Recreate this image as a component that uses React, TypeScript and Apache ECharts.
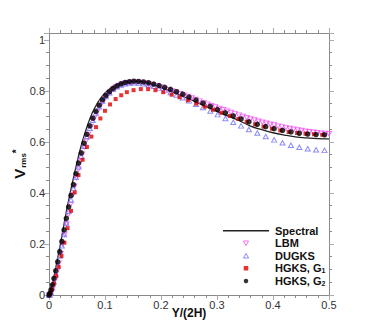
import React, { useEffect, useRef } from "react";
import * as echarts from "echarts";

// [Y/(2H), Vrms*]
const spectral: number[][] = [
  [0, 0], [0.005, 0.035], [0.01, 0.085], [0.015, 0.14], [0.02, 0.195], [0.025, 0.255],
  [0.03, 0.315], [0.035, 0.37], [0.04, 0.423], [0.045, 0.472], [0.05, 0.52], [0.055, 0.565],
  [0.06, 0.605], [0.065, 0.64], [0.07, 0.673], [0.075, 0.702], [0.08, 0.726], [0.085, 0.746],
  [0.09, 0.764], [0.1, 0.792], [0.11, 0.811], [0.12, 0.824], [0.13, 0.832], [0.14, 0.837],
  [0.15, 0.839], [0.16, 0.838], [0.17, 0.835], [0.18, 0.829], [0.19, 0.822], [0.2, 0.813],
  [0.22, 0.796], [0.24, 0.778], [0.26, 0.759], [0.28, 0.739], [0.3, 0.72], [0.32, 0.701],
  [0.34, 0.683], [0.36, 0.662], [0.38, 0.648], [0.4, 0.636], [0.42, 0.627], [0.44, 0.62],
  [0.46, 0.616], [0.48, 0.613], [0.5, 0.612],
];

const lbm: number[][] = [
  [0, 0], [0.0035, 0.004], [0.007, 0.028], [0.0105, 0.058], [0.014, 0.09], [0.0175, 0.125],
  [0.021, 0.162], [0.0245, 0.2], [0.028, 0.238], [0.0315, 0.278], [0.035, 0.317], [0.0385, 0.355],
  [0.042, 0.392], [0.0455, 0.426], [0.049, 0.46], [0.0525, 0.493], [0.056, 0.523], [0.0595, 0.552],
  [0.063, 0.58], [0.0665, 0.605], [0.07, 0.629], [0.075, 0.661], [0.08, 0.69], [0.085, 0.714],
  [0.09, 0.736], [0.095, 0.755], [0.1, 0.771], [0.105, 0.785], [0.11, 0.797], [0.115, 0.807],
  [0.12, 0.815], [0.125, 0.821], [0.13, 0.826], [0.135, 0.829], [0.14, 0.831], [0.145, 0.833],
  [0.15, 0.834], [0.157, 0.834], [0.164, 0.833], [0.171, 0.831], [0.178, 0.828], [0.185, 0.824],
  [0.192, 0.82], [0.199, 0.815], [0.206, 0.81], [0.213, 0.805], [0.22, 0.8], [0.227, 0.795],
  [0.234, 0.789], [0.241, 0.783], [0.248, 0.778], [0.255, 0.772], [0.262, 0.766], [0.269, 0.76],
  [0.276, 0.754], [0.283, 0.748], [0.29, 0.742], [0.297, 0.737], [0.304, 0.731], [0.311, 0.726],
  [0.318, 0.72], [0.325, 0.715], [0.332, 0.71], [0.339, 0.705], [0.346, 0.7], [0.353, 0.695],
  [0.36, 0.69], [0.367, 0.686], [0.374, 0.681], [0.381, 0.677], [0.388, 0.673], [0.395, 0.669],
  [0.402, 0.666], [0.409, 0.662], [0.416, 0.659], [0.423, 0.656], [0.43, 0.653], [0.437, 0.65],
  [0.444, 0.647], [0.451, 0.645], [0.458, 0.642], [0.465, 0.64], [0.472, 0.638], [0.479, 0.636],
  [0.486, 0.634], [0.493, 0.633], [0.5, 0.632],
];

const dugks: number[][] = [
  [0, 0], [0.0015, 0.001], [0.0035, 0.01], [0.006, 0.028], [0.0088, 0.052], [0.012, 0.08],
  [0.0155, 0.115], [0.0192, 0.153], [0.023, 0.193], [0.027, 0.237], [0.031, 0.282], [0.035, 0.328],
  [0.0393, 0.373], [0.0437, 0.418], [0.0482, 0.461], [0.0528, 0.503], [0.0576, 0.544], [0.0625, 0.583],
  [0.0676, 0.62], [0.0728, 0.654], [0.0782, 0.685], [0.0838, 0.713], [0.0896, 0.738], [0.0955, 0.76],
  [0.1016, 0.778], [0.108, 0.793], [0.1146, 0.806], [0.1215, 0.816], [0.1286, 0.823], [0.136, 0.828],
  [0.1437, 0.831], [0.1517, 0.832], [0.16, 0.831], [0.1687, 0.828], [0.1777, 0.824], [0.187, 0.818],
  [0.1966, 0.811], [0.2066, 0.803], [0.217, 0.794], [0.2277, 0.784], [0.2388, 0.773], [0.25, 0.761],
  [0.2625, 0.748], [0.275, 0.735], [0.288, 0.721], [0.301, 0.707], [0.315, 0.692], [0.329, 0.677],
  [0.343, 0.663], [0.357, 0.649], [0.372, 0.635], [0.387, 0.621], [0.402, 0.608], [0.417, 0.597],
  [0.432, 0.587], [0.447, 0.579], [0.462, 0.573], [0.477, 0.569], [0.492, 0.567],
];

const hgksG1: number[][] = [
  [0, 0], [0.0024, 0.008], [0.0053, 0.022], [0.0088, 0.045], [0.0128, 0.075], [0.0173, 0.11],
  [0.0222, 0.153], [0.0275, 0.205], [0.0332, 0.262], [0.0393, 0.33], [0.0458, 0.402], [0.0527, 0.47],
  [0.06, 0.53], [0.0677, 0.58], [0.0757, 0.621], [0.084, 0.658], [0.0918, 0.692], [0.1, 0.722],
  [0.109, 0.747], [0.119, 0.768], [0.129, 0.783], [0.139, 0.795], [0.151, 0.803], [0.164, 0.807],
  [0.177, 0.807], [0.19, 0.803], [0.204, 0.795], [0.219, 0.785], [0.233, 0.775], [0.248, 0.763],
  [0.263, 0.75], [0.278, 0.738], [0.293, 0.726], [0.308, 0.714], [0.323, 0.702], [0.338, 0.69],
  [0.353, 0.679], [0.368, 0.669], [0.383, 0.66], [0.398, 0.652], [0.413, 0.645], [0.428, 0.639],
  [0.443, 0.635], [0.458, 0.632], [0.473, 0.63], [0.488, 0.628],
];

const hgksG2: number[][] = [
  [0, 0], [0.0015, 0.006], [0.0035, 0.02], [0.006, 0.04], [0.0088, 0.065], [0.012, 0.095],
  [0.0155, 0.13], [0.0192, 0.17], [0.023, 0.21], [0.027, 0.255], [0.031, 0.3], [0.035, 0.345],
  [0.0393, 0.39], [0.0437, 0.433], [0.0482, 0.476], [0.0528, 0.517], [0.0576, 0.557], [0.0625, 0.595],
  [0.0676, 0.63], [0.0728, 0.663], [0.0782, 0.693], [0.0838, 0.72], [0.0896, 0.744], [0.0955, 0.765],
  [0.1016, 0.782], [0.108, 0.797], [0.1146, 0.81], [0.1215, 0.82], [0.1286, 0.828], [0.136, 0.833],
  [0.1437, 0.836], [0.1517, 0.838], [0.16, 0.837], [0.1687, 0.835], [0.1777, 0.832], [0.187, 0.827],
  [0.1966, 0.821], [0.2066, 0.814], [0.217, 0.806], [0.2277, 0.797], [0.2388, 0.787], [0.25, 0.776],
  [0.2625, 0.764], [0.275, 0.752], [0.288, 0.739], [0.301, 0.727], [0.315, 0.714], [0.329, 0.702],
  [0.343, 0.69], [0.357, 0.679], [0.372, 0.669], [0.387, 0.66], [0.402, 0.652], [0.417, 0.645],
  [0.432, 0.639], [0.447, 0.634], [0.462, 0.631], [0.477, 0.629], [0.492, 0.628],
];

const seriesNames = ["Spectral", "LBM", "DUGKS", "HGKS, G1", "HGKS, G2"];

const FONT = "Liberation Sans, Arial, Helvetica, sans-serif";
const AXIS_GRAY = "#8a8a8a";
const LBM_COLOR = "#f050f0";
const DUGKS_COLOR = "#6f6ff5";

export default function App() {
  const ref = useRef<HTMLDivElement>(null);
  useEffect(() => {
    document.body.style.margin = "0";
    if (!ref.current) return;
    const chart = echarts.init(ref.current, undefined, { renderer: "svg" });
    const baseAxis = {
      axisLine: { show: true, onZero: false, lineStyle: { color: AXIS_GRAY, width: 1 } },
      axisTick: { show: true, inside: false, length: 5, lineStyle: { color: "#aaaaaa", width: 1 } },
      minorTick: { show: true, length: 3, lineStyle: { color: AXIS_GRAY, width: 1 } },
      splitLine: { show: false },
    };
    const labelStyle = { color: "#333", fontSize: 11, fontFamily: FONT };
    const fmt = (v: number) => {
      if (Math.abs(v - Math.round(v * 10) / 10) > 1e-6) return "";
      if (v === 0) return "0";
      if (Math.abs(v - 1) < 1e-6) return "1";
      return v.toFixed(1);
    };
    const hollow = (c: string) => ({ color: "rgba(0,0,0,0)", borderColor: c, borderWidth: 1 });
    const legendItems = [
      { name: "Spectral", icon: "path://M0,0 H46 V1.3 H0 Z", itemStyle: { color: "#222" } },
      { name: "LBM", icon: "path://M0,0 L10,0 L5,8.7 Z", itemStyle: hollow(LBM_COLOR) },
      { name: "DUGKS", icon: "path://M5,0 L10,8.7 L0,8.7 Z", itemStyle: hollow(DUGKS_COLOR) },
      { name: "HGKS, G1", icon: "path://M0,0 H10 V10 H0 Z", itemStyle: { color: "#e00000" } },
      { name: "HGKS, G2", icon: "circle", itemStyle: { color: "#000" } },
    ];
    chart.setOption({
      animation: false,
      backgroundColor: "#ffffff",
      grid: { left: 49, right: 45, top: 33, bottom: 37, containLabel: false, outerBoundsMode: "none" },
      legend: {
        orient: "vertical",
        left: 218,
        top: 220,
        itemWidth: 46,
        itemHeight: 4.5,
        itemGap: 1,
        data: legendItems.filter((d) => seriesNames.includes(d.name)),
        textStyle: {
          fontFamily: FONT,
          fontSize: 11,
          fontWeight: "bold",
          color: "#111",
          lineHeight: 11.5,
          padding: [0, 0, 0, 1],
          rich: {
            s: { fontSize: 7, fontWeight: "bold", fontFamily: FONT, padding: [5, 0, 0, 0], color: "#111" },
          },
        },
        formatter: (name: string) => name.replace(/G(\d)$/, "G{s|$1}"),
      },
      xAxis: [
        {
          ...baseAxis,
          type: "value",
          min: 0,
          max: 0.5,
          interval: 0.1,
          minorTick: { ...baseAxis.minorTick, splitNumber: 5 },
          axisLabel: { ...labelStyle, margin: 4, formatter: fmt },
          name: "Y/(2H)",
          nameLocation: "middle",
          nameGap: 12,
          nameMoveOverlap: false,
          nameTextStyle: { fontFamily: FONT, fontSize: 12, fontWeight: "bold", color: "#111", verticalAlign: "top" },
        },
        {
          ...baseAxis,
          type: "value",
          position: "top",
          min: 0,
          max: 0.5,
          interval: 0.1,
          minorTick: { ...baseAxis.minorTick, splitNumber: 5 },
          axisLabel: { show: false },
        },
      ],
      yAxis: [
        {
          ...baseAxis,
          type: "value",
          min: 0,
          max: 1.027,
          interval: 0.2,
          minorTick: { ...baseAxis.minorTick, splitNumber: 4 },
          axisLabel: { ...labelStyle, margin: 4, formatter: fmt, showMaxLabel: false },
          name: "{v|V}{s|rms}{p|*}",
          nameLocation: "middle",
          nameRotate: 90,
          nameGap: 22,
          nameMoveOverlap: false,
          nameTextStyle: {
            rich: {
              v: { fontSize: 15, fontWeight: "bold", fontFamily: FONT, color: "#111", lineHeight: 16 },
              s: { fontSize: 8, fontWeight: "bold", fontFamily: FONT, color: "#111", verticalAlign: "bottom", lineHeight: 16, padding: [5, 0, 0, 1] },
              p: { fontSize: 10, fontWeight: "bold", fontFamily: FONT, color: "#111", verticalAlign: "top", lineHeight: 16, padding: [0, 0, 5, 0] },
            },
          },
        },
        {
          ...baseAxis,
          type: "value",
          position: "right",
          min: 0,
          max: 1.027,
          interval: 0.2,
          minorTick: { ...baseAxis.minorTick, splitNumber: 4 },
          axisLabel: { show: false },
        },
      ],
      series: [
        {
          name: "Spectral",
          type: "line",
          data: spectral,
          smooth: true,
          symbol: "none",
          lineStyle: { color: "#222", width: 1.3 },
          itemStyle: { color: "#222" },
          z: 2,
        },
        {
          name: "LBM",
          type: "scatter",
          data: lbm,
          symbol: "path://M0,0 L10,0 L5,8.7 Z",
          symbolSize: [5, 4.5],
          itemStyle: hollow(LBM_COLOR),
          z: 3,
        },
        {
          name: "DUGKS",
          type: "scatter",
          data: dugks,
          symbol: "triangle",
          symbolSize: [5, 4.5],
          itemStyle: hollow(DUGKS_COLOR),
          z: 4,
        },
        {
          name: "HGKS, G1",
          type: "scatter",
          data: hgksG1,
          symbol: "rect",
          symbolSize: 4,
          itemStyle: { color: "#e00000" },
          z: 5,
        },
        {
          name: "HGKS, G2",
          type: "scatter",
          data: hgksG2,
          symbol: "circle",
          symbolSize: 5.5,
          itemStyle: { color: "#000" },
          z: 6,
        },
      ],
    });
    return () => chart.dispose();
  }, []);
  return <div ref={ref} style={{ width: 374, height: 332 }} />;
}
